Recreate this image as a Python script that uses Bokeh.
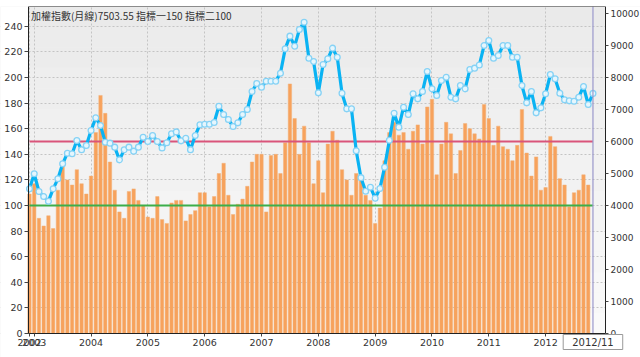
from bokeh.plotting import figure
from bokeh.models import Range1d, LinearAxis, FixedTicker, Label, BoxAnnotation, ColumnDataSource
from bokeh.embed import file_html
from bokeh.resources import INLINE

# ---- data (monthly, 2002/12 .. 2012/11) ----
year_labels = ["2002", "2003", "2004", "2005", "2006", "2007", "2008", "2009", "2010", "2011", "2012"]
year_tick_index = [0, 1, 13, 25, 37, 49, 61, 73, 85, 97, 109]

bar_values = [
    109, 117, 90, 84, 92, 82, 112, 133, 120, 116, 128, 117,
    109, 123, 157, 186, 172, 134, 112, 95, 90, 111, 113, 104,
    100, 91, 90, 107, 89, 86, 102, 104, 104, 88, 93, 96,
    110, 110, 99, 107, 125, 133, 108, 93, 101, 105, 115, 134,
    140, 140, 95, 139, 140, 125, 149, 195, 168, 140, 162, 149,
    117, 135, 110, 148, 158, 151, 128, 120, 108, 125, 123, 108,
    104, 86, 98, 135, 157, 165, 155, 157, 144, 158, 163, 148,
    177, 183, 124, 148, 165, 156, 125, 143, 164, 160, 156, 152,
    179, 168, 147, 162, 146, 144, 135, 147, 175, 141, 123, 138,
    112, 114, 154, 146, 121, 116, 99, 110, 112, 124, 116,
]

index_values = [
    4521, 4990, 4437, 4281, 4135, 4521, 4833, 5302, 5635, 5615, 6031, 5740,
    5875, 6344, 6740, 6500, 5979, 5948, 5823, 5427, 5740, 5823, 5698, 5823,
    6135, 6000, 6188, 6000, 5800, 5960, 6240, 6300, 6020, 6104, 5745, 6188,
    6525, 6540, 6540, 6595, 7100, 6844, 6688, 6469, 6583, 6844, 7000, 7563,
    7810, 7698, 7885, 7885, 7885, 8135, 8896, 9292, 8979, 9500, 9729, 8604,
    8500, 7521, 8406, 8583, 8917, 8635, 7510, 7021, 7021, 5710, 4870, 4448,
    4573, 4229, 4530, 5198, 6041, 6885, 6448, 7073, 6844, 7490, 7333, 7563,
    8188, 7646, 7438, 7906, 8010, 7385, 7333, 7750, 7646, 8250, 8292, 8390,
    9000, 9156, 8604, 8688, 9000, 9000, 8635, 8635, 7750, 7208, 7563, 6896,
    7052, 7490, 8094, 7958, 7510, 7302, 7271, 7260, 7385, 7719, 7156, 7503.55,
]

indicator1 = 150
indicator2 = 100
last_label = "2012/11"
title_text = "加權指數(月線)7503.55  指標一150  指標二100"

left_ticks = list(range(0, 241, 20))
right_ticks = list(range(0, 10001, 1000))

# ---- scales (frame covers the canvas; axes are pinned inside it) ----
X_CANVAS_START, X0, X_PLOT_END, X_CANVAS_END = -6.123, -0.21, 121.65, 129.04   # month-index units
L_BOTTOM, L_TOP = -18.75, 255.5                                               # left-axis units
R_BOTTOM, R_TOP = -750, 10219                                                 # right-axis units

n = len(index_values)
xs = list(range(n))
bar_src = ColumnDataSource(dict(x=xs[:len(bar_values)], top=bar_values))
line_src = ColumnDataSource(dict(x=xs, y=index_values))

FONT = "DejaVu Sans"

p = figure(width=640, height=357, output_backend="svg", toolbar_location=None,
           x_range=Range1d(X_CANVAS_START, X_CANVAS_END), y_range=Range1d(L_BOTTOM, L_TOP),
           min_border_left=0, min_border_right=0, min_border_top=6, min_border_bottom=0)
p.extra_y_ranges = {"idx": Range1d(R_BOTTOM, R_TOP)}

p.background_fill_color = "#f1f1f1"
p.border_fill_color = "white"
p.outline_line_color = None

# subtle vertical gradient of the plotting area (darker at the top)
bands = 16
for k in range(bands):
    lo = L_TOP * k / bands
    hi = L_TOP * (k + 1) / bands
    g = int(round(0xfa - (0xfa - 0xea) * (k + 0.5) / bands))
    p.add_layout(BoxAnnotation(bottom=lo, top=hi, left=X0, right=X_PLOT_END,
                               fill_color="#%02x%02x%02x" % (g, g, g), fill_alpha=1,
                               line_color=None, level="image"))

# grid
p.ygrid.ticker = FixedTicker(ticks=left_ticks)
p.ygrid.grid_line_color = "#c4c4c4"
p.ygrid.grid_line_dash = "2 2"
p.xgrid.ticker = FixedTicker(ticks=year_tick_index)
p.xgrid.grid_line_color = "#c4c4c4"
p.xgrid.grid_line_dash = "2 2"

# white margins around the plotting area
p.add_layout(BoxAnnotation(top=0, fill_color="white", fill_alpha=1, line_color=None, level="underlay"))
p.add_layout(BoxAnnotation(left=X_PLOT_END, fill_color="white", fill_alpha=1, line_color=None, level="underlay"))
p.add_layout(BoxAnnotation(right=X0, fill_color="white", fill_alpha=1, line_color=None, level="underlay"))

# bars
p.vbar(x="x", top="top", width=0.72, source=bar_src, fill_color="#f7a25c",
       line_color="#f2b27a", line_width=0.5)

# indicator lines
p.line(xs, [indicator1] * n, line_color="#d9547a", line_width=2)
p.line(xs, [indicator2] * n, line_color="#3cae4a", line_width=2)

# index line
p.line("x", "y", source=line_src, y_range_name="idx", line_color="#0ab3f3", line_width=3.2)
p.scatter("x", "y", source=line_src, y_range_name="idx", size=5.8, marker="circle",
          fill_color="#e6f6fd", line_color="#86d2f5", line_width=1.3)

# crosshair at last month
p.segment(x0=[n - 1], y0=[0], x1=[n - 1], y1=[L_TOP], line_color="#9a98cc", line_width=1.2)

# axes
p.xaxis.ticker = FixedTicker(ticks=year_tick_index)
p.xaxis.major_label_overrides = {t: l for t, l in zip(year_tick_index, year_labels)}
p.xaxis.fixed_location = 0
p.xaxis.bounds = (X0, X_PLOT_END)
p.yaxis.ticker = FixedTicker(ticks=left_ticks)
p.yaxis.fixed_location = X0
p.yaxis.bounds = (0, L_TOP)

right_axis = LinearAxis(y_range_name="idx", ticker=FixedTicker(ticks=right_ticks),
                        fixed_location=X_PLOT_END, bounds=(0, R_TOP))
p.add_layout(right_axis, "right")

top_axis = LinearAxis(ticker=FixedTicker(ticks=[]), fixed_location=L_TOP,
                      bounds=(X0, X_PLOT_END), axis_line_color="#888888",
                      major_tick_line_color=None, minor_tick_line_color=None,
                      major_label_text_font_size="0px")
p.add_layout(top_axis, "above")

for ax in p.xaxis + p.yaxis + [right_axis]:
    ax.axis_line_color = "#222222"
    ax.axis_line_width = 1
    ax.major_tick_line_color = "#444444"
    ax.major_tick_in = 0
    ax.major_tick_out = 4
    ax.minor_tick_line_color = None
    ax.major_label_text_font = FONT
    ax.major_label_text_font_size = "9.5px"
    ax.major_label_text_color = "#333333"
    ax.major_label_standoff = 2
p.xaxis.major_tick_out = 3
right_axis.major_tick_out = 3
right_axis.major_label_standoff = 2
right_axis.major_label_text_font_size = "9px"

# title text inside the plot
p.add_layout(Label(x=0.3, y=254, text=title_text, text_align="left", text_baseline="top",
                   text_font="Noto Sans CJK TC", text_font_size="10px", text_color="#333333"))

# date label box at the bottom
p.add_layout(Label(x=n - 1, y=0, y_offset=-1, text=last_label, text_align="center",
                   text_baseline="top", text_font=FONT, text_font_size="10px",
                   text_color="#333333", background_fill_color="white",
                   border_line_color="#999999", padding=(9, 2)))

open("out.html", "w").write(file_html(p, INLINE))
